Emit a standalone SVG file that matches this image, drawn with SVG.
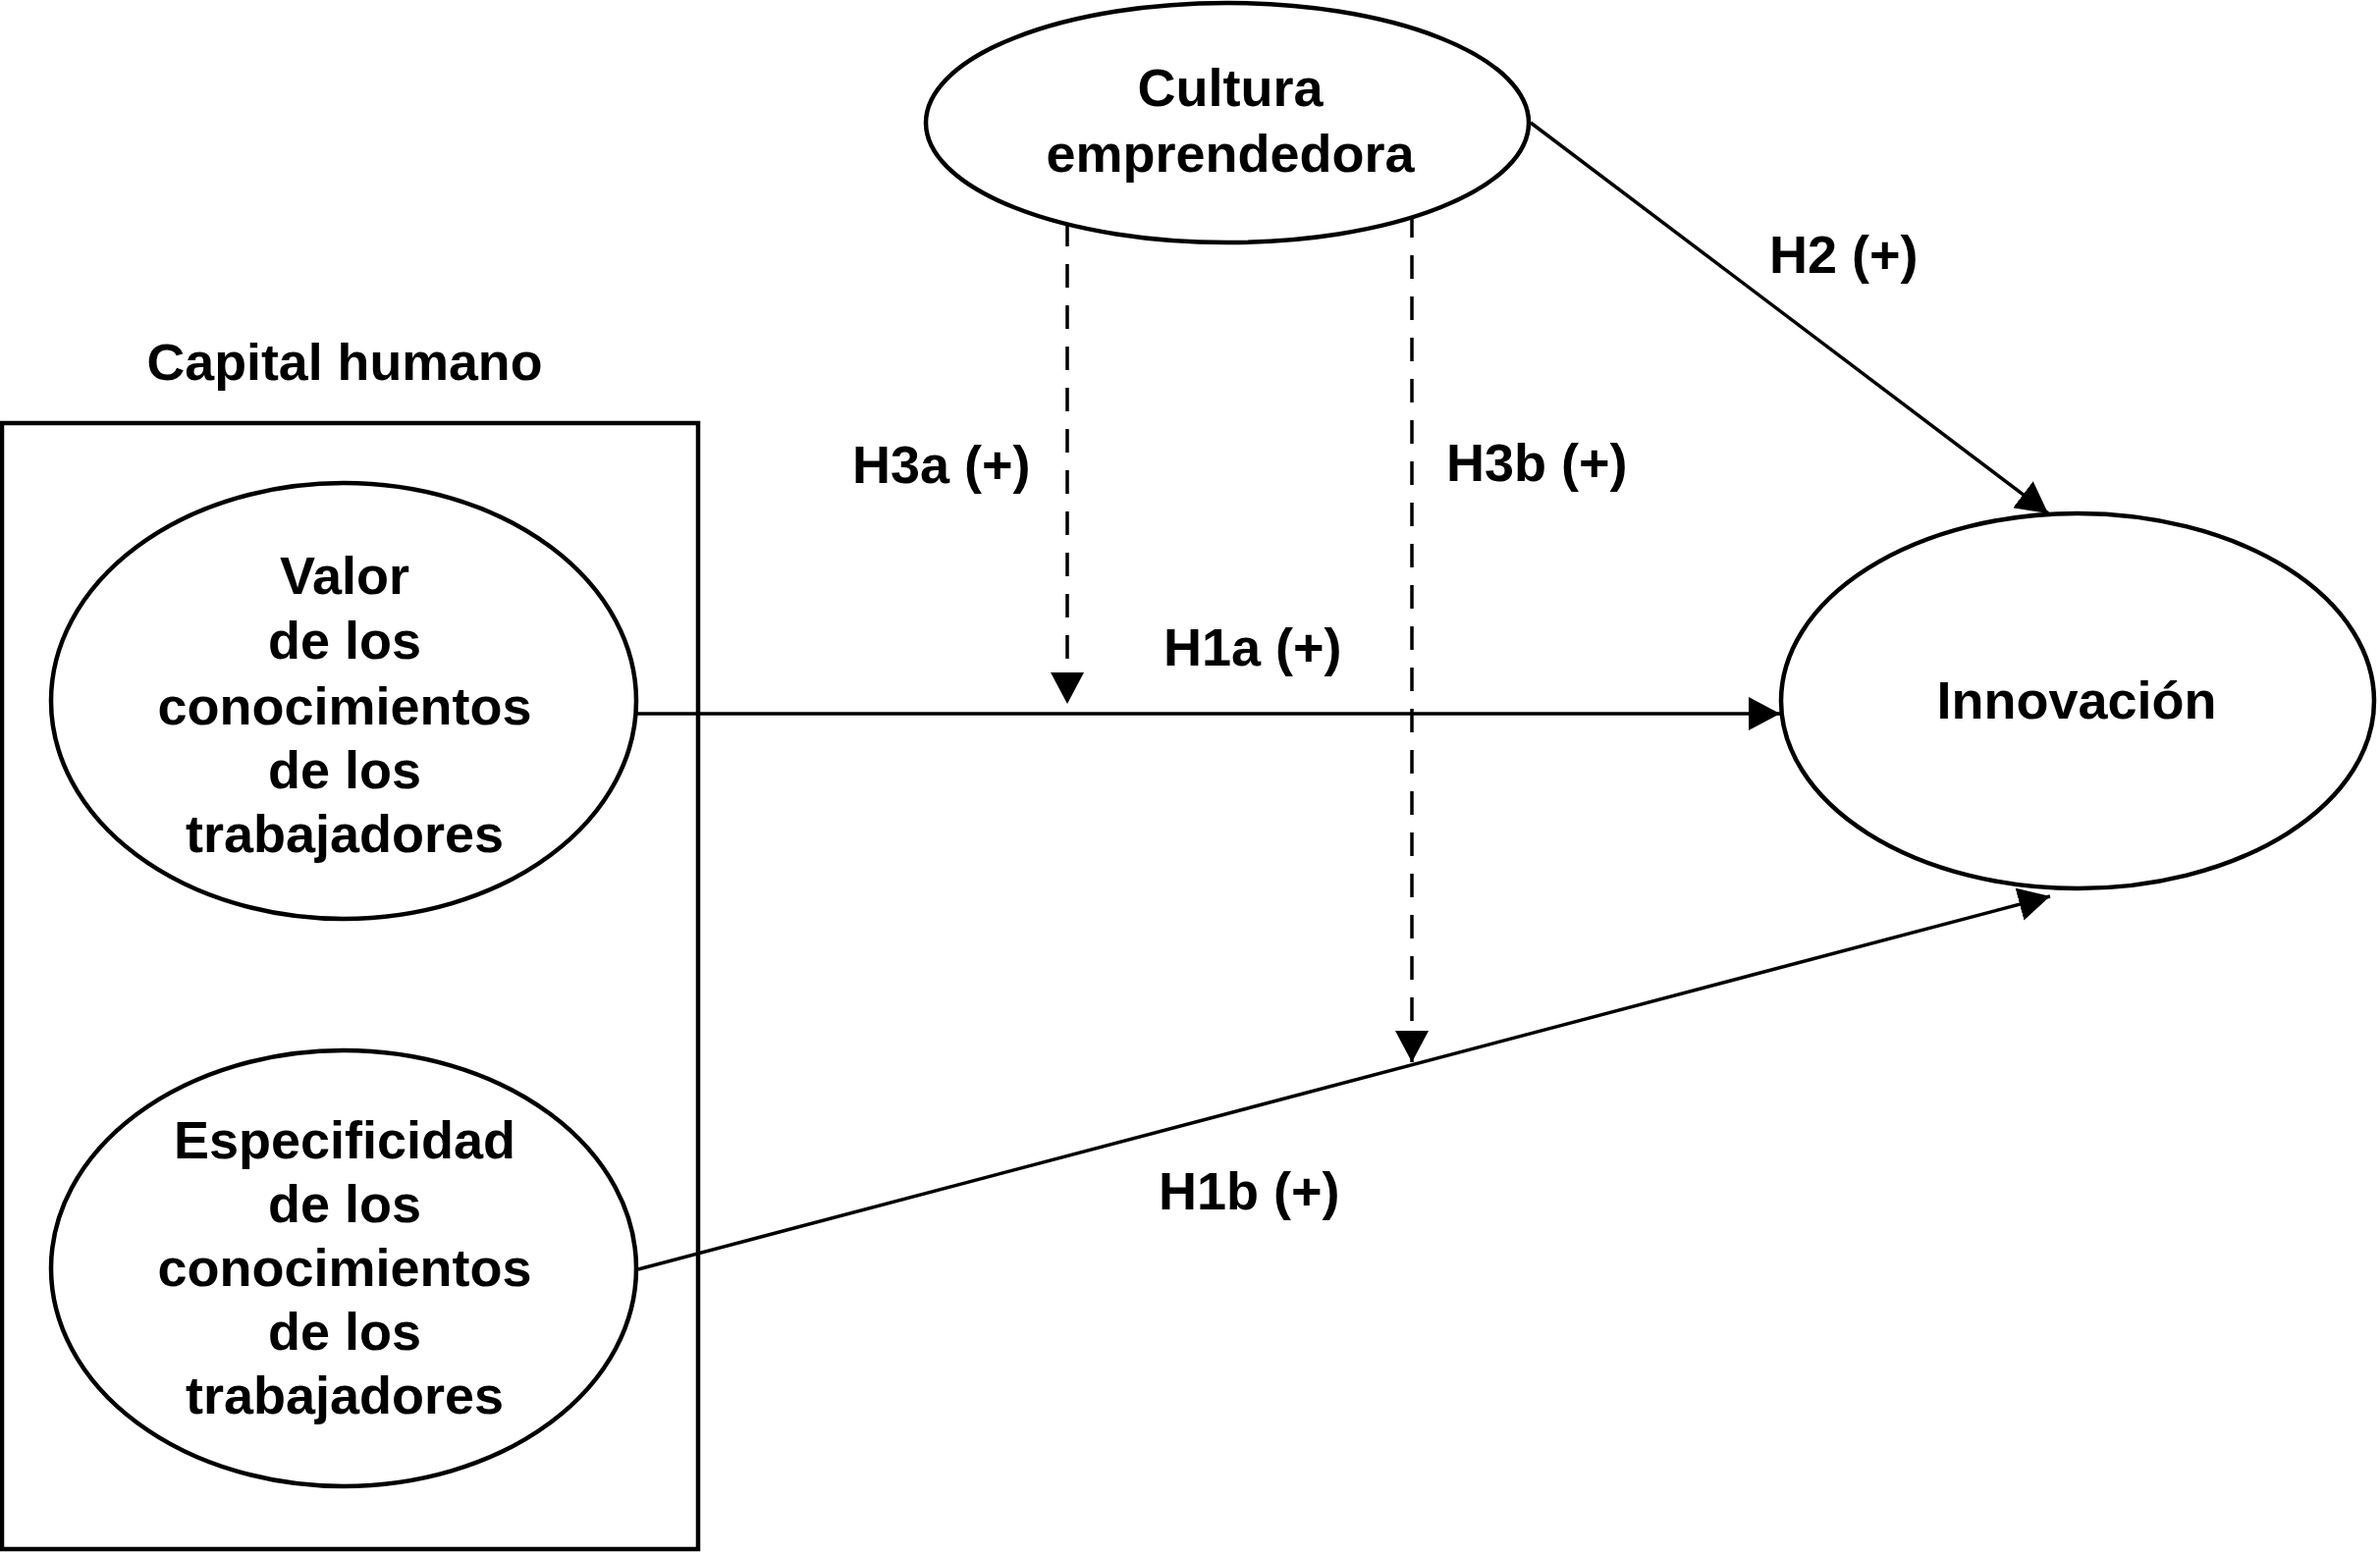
<svg xmlns="http://www.w3.org/2000/svg" width="2424" height="1583" viewBox="0 0 2424 1583">
<style>
.t{font-family:"Liberation Sans",Arial,sans-serif;font-weight:bold;font-size:54px;fill:#000;text-anchor:middle}
.lbl{font-family:"Liberation Sans",Arial,sans-serif;font-weight:bold;font-size:54px;fill:#000}
.node{fill:#fff;stroke:#000;stroke-width:4.5}
.edge{fill:none;stroke:#000;stroke-width:3.5}
.dash{fill:none;stroke:#000;stroke-width:3.5;stroke-dasharray:24 18}
</style>
<defs>
<marker id="ah" viewBox="0 0 32 34" refX="32" refY="17" markerWidth="32" markerHeight="34" markerUnits="userSpaceOnUse" orient="auto">
<path d="M0,0 L32,17 L0,34 z" fill="#000"/>
</marker>
</defs>
<rect width="2424" height="1583" fill="#fff"/>
<g id="capital-humano">
<rect x="2" y="431" width="709" height="1147" fill="none" stroke="#000" stroke-width="4.5"/>
<text x="351" y="387" class="lbl" style="font-size:51px" text-anchor="middle" textLength="403" lengthAdjust="spacingAndGlyphs">Capital humano</text>
</g>
<g id="connectors">
<line class="edge" x1="649" y1="727" x2="1813" y2="727" marker-end="url(#ah)"/>
<line class="edge" x1="650" y1="1293" x2="2088" y2="913" marker-end="url(#ah)"/>
<line class="edge" x1="1559" y1="125" x2="2086" y2="523" marker-end="url(#ah)"/>
<line class="dash" x1="1087" y1="227" x2="1087" y2="717" marker-end="url(#ah)"/>
<line class="dash" x1="1438" y1="218" x2="1438" y2="1082" marker-end="url(#ah)"/>
<text class="lbl" x="1185" y="678">H1a (+)</text>
<text class="lbl" x="1180" y="1232">H1b (+)</text>
<text class="lbl" x="1802" y="278">H2 (+)</text>
<text class="lbl" x="868" y="492">H3a (+)</text>
<text class="lbl" x="1473" y="490">H3b (+)</text>
</g>
<g id="cultura">
<ellipse class="node" cx="1250" cy="125" rx="307" ry="122"/>
<text class="t" x="1253" y="108">Cultura</text>
<text class="t" x="1253" y="175">emprendedora</text>
</g>
<g id="valor">
<ellipse class="node" cx="350" cy="714" rx="298" ry="222"/>
<text class="t" x="351" y="605">Valor</text>
<text class="t" x="351" y="671">de los</text>
<text class="t" x="351" y="738">conocimientos</text>
<text class="t" x="351" y="803">de los</text>
<text class="t" x="351" y="868">trabajadores</text>
</g>
<g id="especificidad">
<ellipse class="node" cx="350" cy="1292" rx="298" ry="222"/>
<text class="t" x="351" y="1180">Especificidad</text>
<text class="t" x="351" y="1245">de los</text>
<text class="t" x="351" y="1310">conocimientos</text>
<text class="t" x="351" y="1375">de los</text>
<text class="t" x="351" y="1440">trabajadores</text>
</g>
<g id="innovacion">
<ellipse class="node" cx="2116" cy="714" rx="302" ry="191"/>
<text class="t" x="2115" y="732">Innovación</text>
</g>
</svg>
